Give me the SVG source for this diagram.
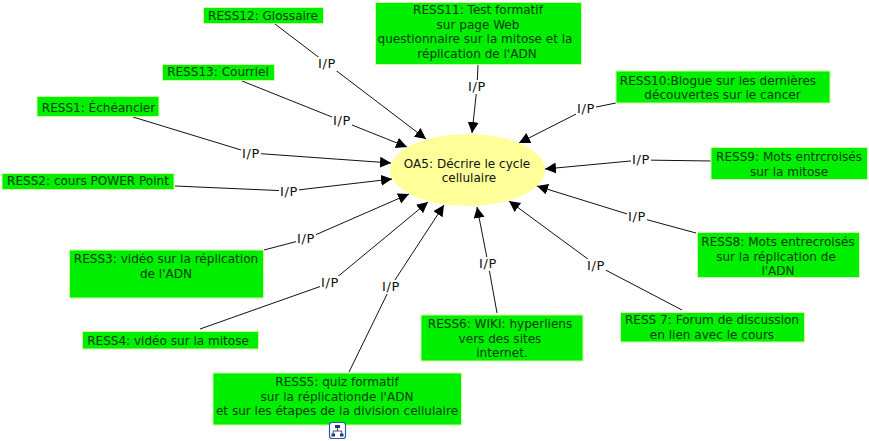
<svg xmlns="http://www.w3.org/2000/svg" width="869" height="441" viewBox="0 0 869 441">
<style>
text{font-family:"DejaVu Sans",Verdana,sans-serif;font-size:12.05px;fill:#063d06;text-anchor:middle}
.b{fill:#00ee00;stroke:#ccff99;stroke-width:1}
.c{fill:none;stroke:#111;stroke-width:1}
.l{fill:#fff;stroke:none}
text.lt{fill:#111;font-size:13px;letter-spacing:.7px}
</style>
<defs>
<marker id="a" markerUnits="userSpaceOnUse" markerWidth="12" markerHeight="12" refX="11" refY="5.500" orient="auto"><path d="M0 0L11 5.500L0 11Z" fill="#000"/></marker>
</defs>
<rect width="869" height="441" fill="#fff"/>
<g id="connectors">
<path class="c" d="M275 24L426 139" marker-end="url(#a)"/>
<path class="c" d="M242 81L407 147" marker-end="url(#a)"/>
<path class="c" d="M133 117L251 153L391 163" marker-end="url(#a)"/>
<path class="c" d="M175 186L289 191L392 179" marker-end="url(#a)"/>
<path class="c" d="M264 250L306 239L409 194" marker-end="url(#a)"/>
<path class="c" d="M200 329L330 283L428 202" marker-end="url(#a)"/>
<path class="c" d="M349 372L391 286L444 205" marker-end="url(#a)"/>
<path class="c" d="M497 313L488 263L477 207" marker-end="url(#a)"/>
<path class="c" d="M682 310L596 265L509 201" marker-end="url(#a)"/>
<path class="c" d="M696 233L637 217L537 186" marker-end="url(#a)"/>
<path class="c" d="M711 161L641 160L545 169" marker-end="url(#a)"/>
<path class="c" d="M616 103L586 109L519 143" marker-end="url(#a)"/>
<path class="c" d="M478 65L477 87L472 133" marker-end="url(#a)"/>
<g id="labels">
<rect class="l" x="317" y="57" width="20" height="14"/><text class="lt" x="327" y="68">I/P</text>
<rect class="l" x="332" y="114" width="20" height="14"/><text class="lt" x="342" y="125">I/P</text>
<rect class="l" x="241" y="147" width="20" height="14"/><text class="lt" x="251" y="158">I/P</text>
<rect class="l" x="279" y="185" width="20" height="14"/><text class="lt" x="289" y="196">I/P</text>
<rect class="l" x="296" y="232" width="20" height="14"/><text class="lt" x="306" y="243">I/P</text>
<rect class="l" x="320" y="276" width="20" height="14"/><text class="lt" x="330" y="287">I/P</text>
<rect class="l" x="381" y="280" width="20" height="14"/><text class="lt" x="391" y="291">I/P</text>
<rect class="l" x="478" y="257" width="20" height="14"/><text class="lt" x="488" y="268">I/P</text>
<rect class="l" x="586" y="259" width="20" height="14"/><text class="lt" x="596" y="270">I/P</text>
<rect class="l" x="627" y="210" width="20" height="14"/><text class="lt" x="637" y="221">I/P</text>
<rect class="l" x="631" y="153" width="20" height="14"/><text class="lt" x="641" y="164">I/P</text>
<rect class="l" x="576" y="102" width="20" height="14"/><text class="lt" x="586" y="113">I/P</text>
<rect class="l" x="467" y="80" width="20" height="14"/><text class="lt" x="477" y="91">I/P</text>
</g>
</g>
<g id="OA5"><ellipse cx="467.500" cy="170" rx="77.500" ry="36" fill="#ffff99"/><text x="467" y="168" style="fill:#111">OA5: Décrire le cycle</text><text x="469" y="182" style="fill:#111">cellulaire</text></g>
<g id="RESS12"><rect class="b" x="203.500" y="7.500" width="120" height="16"/><text x="263" y="20">RESS12: Glossaire</text></g>
<g id="RESS11"><rect class="b" x="375.500" y="2.500" width="206" height="62"/><text x="478" y="14">RESS11: Test formatif</text><text x="478" y="29">sur page Web</text><text x="475" y="43">questionnaire sur la mitose et la</text><text x="477" y="58">réplication de l'ADN</text></g>
<g id="RESS13"><rect class="b" x="162.500" y="64.500" width="112" height="16"/><text x="218" y="76">RESS13: Courriel</text></g>
<g id="RESS10"><rect class="b" x="616" y="71" width="214" height="32"/><text x="718" y="85">RESS10:Blogue sur les dernières</text><text x="722.500" y="99">découvertes sur le cancer</text></g>
<g id="RESS1"><rect class="b" x="37" y="96.500" width="122" height="20"/><text x="98.500" y="112">RESS1: Échéancier</text></g>
<g id="RESS2"><rect class="b" x="2" y="173.500" width="172" height="16"/><text x="88" y="185">RESS2: cours POWER Point</text></g>
<g id="RESS9"><rect class="b" x="711" y="147.500" width="156.500" height="32"/><text x="789" y="161">RESS9: Mots entrcroisés</text><text x="789" y="176">sur la mitose</text></g>
<g id="RESS8"><rect class="b" x="697.500" y="232.500" width="162" height="45"/><text x="778" y="246">RESS8: Mots entrecroisés</text><text x="776" y="261">sur la réplication de</text><text x="778" y="275">l'ADN</text></g>
<g id="RESS3"><rect class="b" x="69.500" y="250" width="194" height="48"/><text x="166" y="263">RESS3: vidéo sur la réplication</text><text x="166" y="278">de l'ADN</text></g>
<g id="RESS4"><rect class="b" x="82.500" y="331.500" width="176" height="17.500"/><text x="168" y="345">RESS4: vidéo sur la mitose</text></g>
<g id="RESS6"><rect class="b" x="421" y="315" width="162" height="46"/><text x="500" y="328">RESS6: WIKI: hyperliens</text><text x="500" y="343">vers des sites</text><text x="502" y="357">internet.</text></g>
<g id="RESS7"><rect class="b" x="620.500" y="312.500" width="184" height="29.500"/><text x="712" y="324">RESS 7: Forum de discussion</text><text x="712" y="339">en lien avec le cours</text></g>
<g id="RESS5"><rect class="b" x="213" y="373" width="248.500" height="52"/><text x="337" y="386">RESS5: quiz formatif</text><text x="337" y="401">sur la réplicationde l'ADN</text><text x="337" y="415">et sur les étapes de la division cellulaire</text>
<g id="icon"><rect x="329.500" y="422.500" width="16" height="16" rx="2.500" fill="#fff" stroke="#2a5db0" stroke-width="1.200"/><path d="M335 425h5v3h-5zM331.500 433.500h3.500v3h-3.500zM340 433.500h3.500v3h-3.500z" fill="#1a3a8a"/><path d="M337.500 428v3M333.200 433.500v-2.500h8.500v2.500" fill="none" stroke="#222" stroke-width="0.800"/></g></g>
</svg>
